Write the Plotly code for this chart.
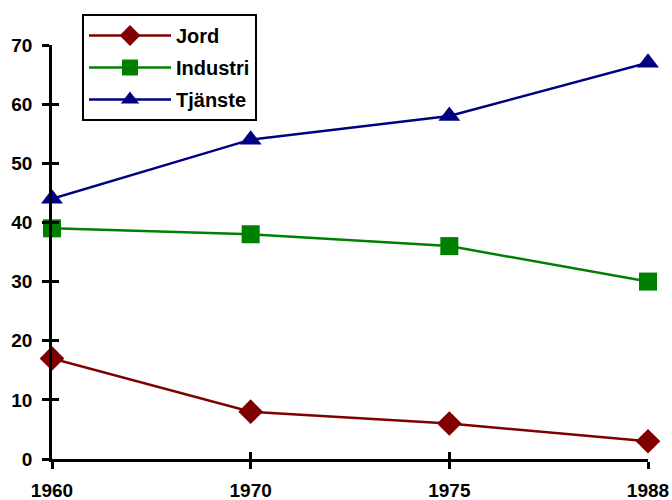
import plotly.graph_objects as go

years = ["1960", "1970", "1975", "1988"]
jord = [17, 8, 6, 3]
industri = [39, 38, 36, 30]
tjanste = [44, 54, 58, 67]
y_ticks = [0, 10, 20, 30, 40, 50, 60, 70]

xpos = list(range(len(years)))
font = dict(family="Liberation Sans, Arial, sans-serif", size=19, color="black")
legfont = dict(family="Liberation Sans, Arial, sans-serif", size=20, color="black",
               weight="bold")

fig = go.Figure()
series = [
    ("Jord", jord, "#800000", "diamond", 19),
    ("Industri", industri, "#008000", "square", 18),
    ("Tjänste", tjanste, "#000080", "triangle-up", 19),
]
for name, vals, color, sym, size in series:
    fig.add_trace(go.Scatter(
        x=xpos, y=vals, name=name, mode="lines+markers",
        line=dict(color=color, width=2.5),
        marker=dict(symbol=sym, size=size, color=color),
        cliponaxis=False, legendgroup=name,
    ))

# helper trace for overlay axes (crossing ticks)
fig.add_trace(go.Scatter(x=[], y=[], xaxis="x2", yaxis="y2", showlegend=False))

H, T, B = 500, 10, 41
plot_h = H - T - B
ydom_top = (H - B - 45) / plot_h

axis_common = dict(showgrid=False, zeroline=False, linecolor="black", linewidth=2.5,
                   tickcolor="black", tickwidth=2.5, ticklen=7, automargin=False)
fig.update_layout(
    width=672, height=H,
    margin=dict(l=52, r=24, t=T, b=B),
    paper_bgcolor="white", plot_bgcolor="white",
    font=font,
    xaxis=dict(range=[0, 3], tickvals=xpos, ticktext=[f"<b>{y}</b>" for y in years],
               ticks="outside", showline=True, tickfont=font, ticklabelstandoff=5,
               **axis_common),
    yaxis=dict(range=[0, 70], tickvals=y_ticks, ticktext=[f"<b>{v}</b>" for v in y_ticks],
               ticks="outside", showline=True, tickfont=font, domain=[0, ydom_top],
               ticklabelstandoff=6, **axis_common),
    xaxis2=dict(range=[0, 3], tickvals=xpos, overlaying="x", ticks="inside",
                showticklabels=False, showline=False, **axis_common),
    yaxis2=dict(range=[0, 70], tickvals=y_ticks, overlaying="y", ticks="inside",
                showticklabels=False, showline=False, **axis_common),
    legend=dict(x=(82 - 52) / 596, y=(H - B - 14) / plot_h, xanchor="left", yanchor="top",
                bordercolor="black", borderwidth=2, bgcolor="white",
                font=legfont, tracegroupgap=3, itemwidth=82),
    showlegend=True,
)

fig.write_html("out.html", config={"displayModeBar": False},
               post_script="document.body.style.margin='0';")
